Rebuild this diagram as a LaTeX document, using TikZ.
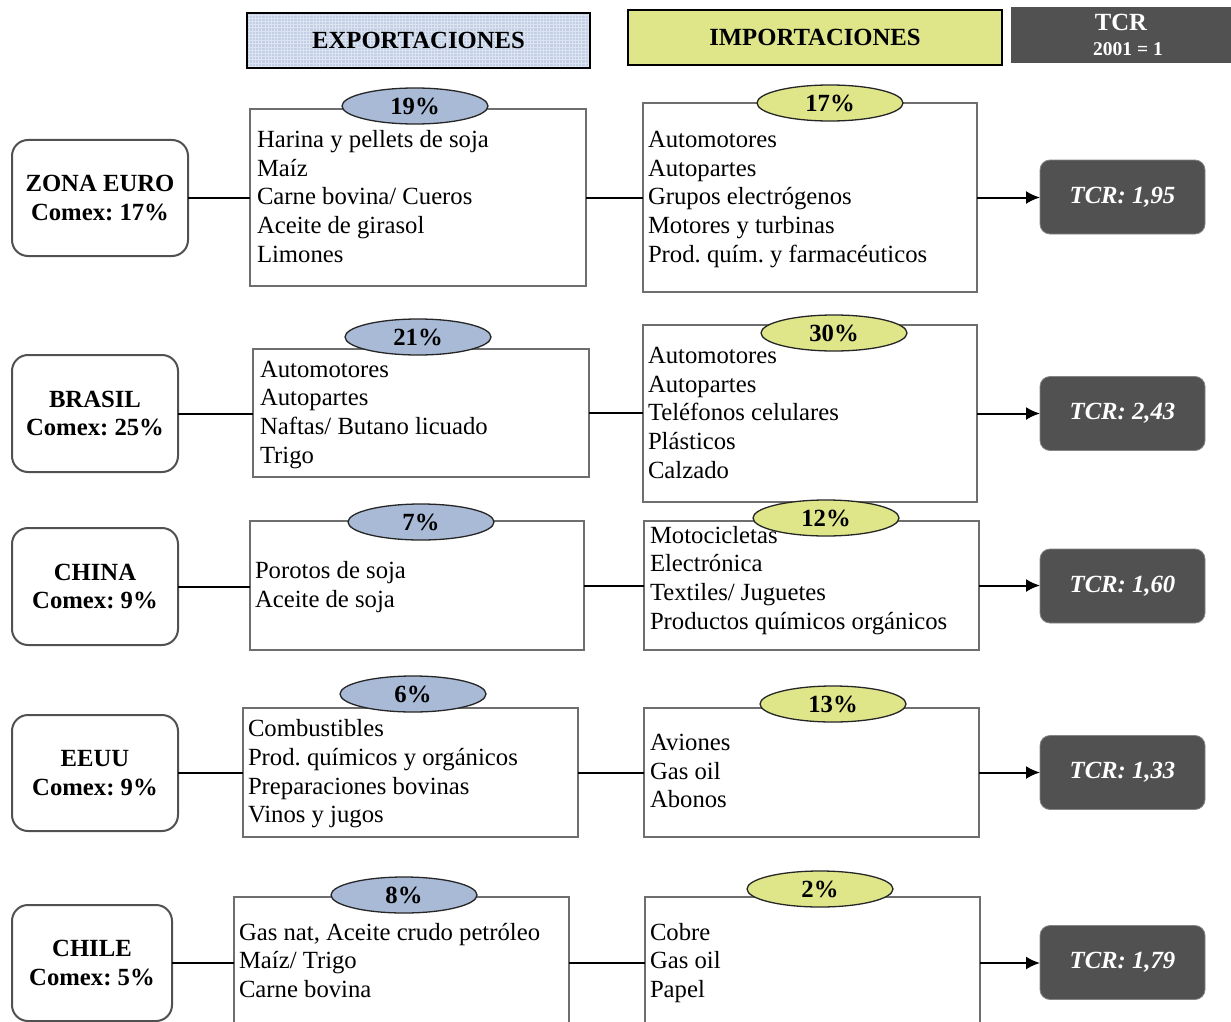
\documentclass[tikz,border=0pt]{standalone}
\usepackage{fontspec}
\setmainfont{Liberation Serif}
\usetikzlibrary{shapes.geometric,arrows.meta}
\definecolor{ellblue}{HTML}{A9BAD6}
\definecolor{ellyel}{HTML}{DFE68A}
\definecolor{dgray}{HTML}{515151}
\definecolor{hblue}{HTML}{C2CFE5}
\definecolor{hgrid}{HTML}{DCE4F2}
\definecolor{boxgray}{HTML}{6E6E6E}
\frenchspacing
\newcommand\fsmain{\fontsize{24.7}{28.7}\selectfont\frenchspacing}
\newcommand\fssmall{\fontsize{19.5}{21}\selectfont}
\tikzset{
  every node/.style={inner sep=0pt, outer sep=0pt},
  country/.style={draw=dgray, line width=2pt, rounded corners=16pt, fill=white, align=center, font=\fsmain\bfseries},
  listbox/.style={draw=boxgray, line width=1.5pt},
  pctexp/.style={ellipse, draw=black!85, line width=1.3pt, fill=ellblue, minimum width=146pt, minimum height=36pt, font=\fsmain\bfseries},
  pctimp/.style={pctexp, fill=ellyel},
  listtxt/.style={anchor=west, align=left, font=\fsmain},
  tcrbox/.style={fill=dgray, draw=dgray!70, line width=0.8pt, rounded corners=10pt, minimum width=165pt, minimum height=74pt, text=white, font=\fsmain\bfseries\itshape},
  conn/.style={draw=black, line width=2pt},
  arr/.style={conn, -{Latex[length=14pt,width=13pt]}},
  hdr/.style={draw=black, line width=2pt, font=\fsmain\bfseries}
}
\begin{document}
\begin{tikzpicture}[x=1pt,y=-1pt]
\useasboundingbox (0,0) rectangle (1231,1022);
\clip (0,0) rectangle (1231,1022);
\fill[white] (0,0) rectangle (1231,1022);

% headers
\node[hdr, fill=hblue, minimum width=343pt, minimum height=55pt,
  path picture={\draw[hgrid, line width=0.5pt, step=3.2pt] (path picture bounding box.south west) grid (path picture bounding box.north east);}]
  (hexp) at (418.5,40.5) {};
\node[font=\fsmain\bfseries] (hexpt) at (418.5,40.5) {EXPORTACIONES};
\node[hdr, fill=ellyel, minimum width=374pt, minimum height=55pt] (himp) at (815,37.5) {IMPORTACIONES};
\node[fill=dgray, minimum width=220pt, minimum height=56pt] (htcr) at (1121,35) {};
\node[text=white, font=\fsmain\bfseries] (htcr1) at (1121,22) {TCR};
\node[text=white, font=\fssmall\bfseries] (htcr2) at (1128,49) {2001 = 1};

% ---------- Row 1: ZONA EURO
\node[country, minimum width=176pt, minimum height=116pt] (c1) at (100,198) {ZONA EURO\\Comex: 17\%};
\node[listbox, minimum width=336pt, minimum height=177pt] (e1) at (418,197.5) {};
\node[listbox, minimum width=334pt, minimum height=189pt] (i1) at (810,197.5) {};
\node[tcrbox] (t1) at (1122.5,197) {TCR: 1,95};
\node[pctexp] (pe1) at (415,106) {19\%};
\node[pctimp] (pi1) at (830,103) {17\%};
\node[listtxt] (le1) at (257,199) {\strut Harina y pellets de soja\\\strut Maíz\\\strut Carne bovina/ Cueros\\\strut Aceite de girasol\\\strut Limones};
\node[listtxt] (li1) at (648,199) {\strut Automotores\\\strut Autopartes\\\strut Grupos electrógenos\\\strut Motores y turbinas\\\strut Prod. quím. y farmacéuticos};
\draw[conn] (c1.east) -- (c1.east -| e1.west);
\draw[conn] (e1.east) -- (e1.east -| i1.west);
\draw[arr] (i1.east) -- (i1.east -| t1.west);

% ---------- Row 2: BRASIL
\node[country, minimum width=166pt, minimum height=117pt] (c2) at (95,413.5) {BRASIL\\Comex: 25\%};
\node[listbox, minimum width=336pt, minimum height=128pt] (e2) at (421,413) {};
\node[listbox, minimum width=334pt, minimum height=177pt] (i2) at (810,413.5) {};
\node[tcrbox] (t2) at (1122.5,413.5) {TCR: 2,43};
\node[pctexp] (pe2) at (418,337) {21\%};
\node[pctimp] (pi2) at (834,333) {30\%};
\node[listtxt] (le2) at (260,414.5) {\strut Automotores\\\strut Autopartes\\\strut Naftas/ Butano licuado\\\strut Trigo};
\node[listtxt] (li2) at (648,415) {\strut Automotores\\\strut Autopartes\\\strut Teléfonos celulares\\\strut Plásticos\\\strut Calzado};
\draw[conn] (c2.east) -- (c2.east -| e2.west);
\draw[conn] (e2.east) -- (e2.east -| i2.west);
\draw[arr] (i2.east) -- (i2.east -| t2.west);

% ---------- Row 3: CHINA
\node[country, minimum width=166pt, minimum height=117pt] (c3) at (95,586.5) {CHINA\\Comex: 9\%};
\node[listbox, minimum width=334pt, minimum height=129pt] (e3) at (417,585.5) {};
\node[listbox, minimum width=335pt, minimum height=129pt] (i3) at (811.5,585.5) {};
\node[tcrbox] (t3) at (1122.5,586) {TCR: 1,60};
\node[pctexp] (pe3) at (421,522) {7\%};
\node[listtxt] (le3) at (255,587.5) {\strut Porotos de soja\\\strut Aceite de soja};
\node[listtxt] (li3) at (650,580.5) {\strut Motocicletas\\\strut Electrónica\\\strut Textiles/ Juguetes\\\strut Productos químicos orgánicos};
\node[pctimp] (pi3) at (826,518) {12\%};
\draw[conn] (c3.east) -- (c3.east -| e3.west);
\draw[conn] (e3.east) -- (e3.east -| i3.west);
\draw[arr] (i3.east) -- (i3.east -| t3.west);

% ---------- Row 4: EEUU
\node[country, minimum width=166pt, minimum height=116pt] (c4) at (95,773) {EEUU\\Comex: 9\%};
\node[listbox, minimum width=335pt, minimum height=129pt] (e4) at (410.5,772.5) {};
\node[listbox, minimum width=335pt, minimum height=129pt] (i4) at (811.5,772.5) {};
\node[tcrbox] (t4) at (1122.5,772.5) {TCR: 1,33};
\node[pctexp] (pe4) at (413,694) {6\%};
\node[pctimp] (pi4) at (833,704) {13\%};
\node[listtxt] (le4) at (248,774) {\strut Combustibles\\\strut Prod. químicos y orgánicos\\\strut Preparaciones bovinas\\\strut Vinos y jugos};
\node[listtxt] (li4) at (650,773.5) {\strut Aviones\\\strut Gas oil\\\strut Abonos};
\draw[conn] (c4.east) -- (c4.east -| e4.west);
\draw[conn] (e4.east) -- (e4.east -| i4.west);
\draw[arr] (i4.east) -- (i4.east -| t4.west);

% ---------- Row 5: CHILE
\node[country, minimum width=160pt, minimum height=116pt] (c5) at (92,963) {CHILE\\Comex: 5\%};
\node[listbox, minimum width=335pt, minimum height=132pt] (e5) at (401.5,963) {};
\node[listbox, minimum width=335pt, minimum height=132pt] (i5) at (812.5,963) {};
\node[tcrbox] (t5) at (1122.5,962.5) {TCR: 1,79};
\node[pctexp] (pe5) at (404,895) {8\%};
\node[pctimp] (pi5) at (820,889) {2\%};
\node[listtxt] (le5) at (239,963) {\strut Gas nat, Aceite crudo petróleo\\\strut Maíz/ Trigo\\\strut Carne bovina};
\node[listtxt] (li5) at (650,963) {\strut Cobre\\\strut Gas oil\\\strut Papel};
\draw[conn] (c5.east) -- (c5.east -| e5.west);
\draw[conn] (e5.east) -- (e5.east -| i5.west);
\draw[arr] (i5.east) -- (i5.east -| t5.west);
\end{tikzpicture}
\end{document}
